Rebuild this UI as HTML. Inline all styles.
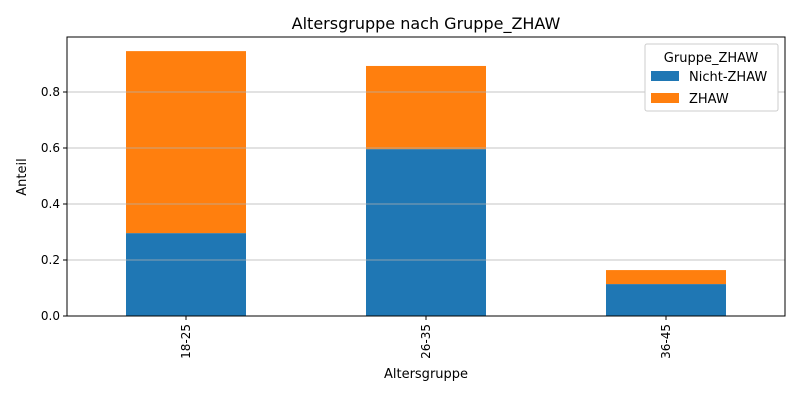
<!DOCTYPE html>
<html><head><meta charset="utf-8"><style>
body{margin:0;background:#fff;}
svg text{font-family:"DejaVu Sans","Liberation Sans",sans-serif;fill:#000;}
</style></head><body>
<svg id="chart" width="800" height="400" xmlns="http://www.w3.org/2000/svg">
<rect width="800" height="400" fill="#fff"/>
<text x="426" y="29" font-size="16" text-anchor="middle">Altersgruppe nach Gruppe_ZHAW</text>
<g id="bars"></g>
<g id="grid"></g>
<rect x="67" y="37" width="718" height="279" fill="none" stroke="#000" stroke-width="1"/>
<g id="yaxis"></g>
<g id="xaxis"></g>
<text x="426" y="382" font-size="13" text-anchor="middle" transform="translate(0,-4)">Altersgruppe</text>
<text transform="translate(26,177) rotate(-90)" font-size="13" text-anchor="middle">Anteil</text>
<g>
<rect x="645" y="44" width="133" height="67" fill="#fff" stroke="#ccc" rx="2"/>
<text x="711" y="62" font-size="13" text-anchor="middle">Gruppe_ZHAW</text>
<rect x="651" y="71" width="28" height="10" fill="#1f77b4"/>
<text x="689" y="81" font-size="13">Nicht-ZHAW</text>
<rect x="651" y="93" width="28" height="10" fill="#ff7f0e"/>
<text x="689" y="103" font-size="13">ZHAW</text>
</g>
</svg>
<script>
const categories = ["18-25","26-35","36-45"];
const nichtZhaw = [0.296, 0.596, 0.114];
const zhaw = [0.650, 0.297, 0.050];
const yTicks = [0.0, 0.2, 0.4, 0.6, 0.8];
const yTickLabels = ["0.0","0.2","0.4","0.6","0.8"];

const NS="http://www.w3.org/2000/svg";
const x0=67, x1=785, yBase=316, pxPerUnit=280, band=240, barW=120;
const yScale=v=>yBase-v*pxPerUnit;
const xCenter=i=>x0+(x1-x0)/2+(i-(categories.length-1)/2)*band;
function mk(tag,attrs,parent){const e=document.createElementNS(NS,tag);for(const k in attrs)e.setAttribute(k,attrs[k]);parent.appendChild(e);return e;}
const grid=document.getElementById('grid'),bars=document.getElementById('bars'),ya=document.getElementById('yaxis'),xa=document.getElementById('xaxis');
yTicks.forEach((t,i)=>{
  const y=yScale(t);
  const g=mk('line',{x1:x0,x2:x1,y1:y,y2:y,stroke:'#b0b0b0','stroke-width':0.8},grid);
  
  
  const tk=mk('line',{x1:x0-4,x2:x0,y1:y,y2:y,stroke:'#000'},ya);
  
  
  const tx=mk('text',{x:x0-7,y:y+4,'font-size':12,'text-anchor':'end'},ya);
  tx.textContent=yTickLabels[i];
  
  
});
categories.forEach((c,i)=>{
  const cx=xCenter(i);
  const b1=mk('rect',{x:cx-barW/2,y:yScale(nichtZhaw[i]),width:barW,height:nichtZhaw[i]*pxPerUnit,fill:'#1f77b4'},bars);
  
  
  const top=nichtZhaw[i]+zhaw[i];
  const b2=mk('rect',{x:cx-barW/2,y:yScale(top),width:barW,height:zhaw[i]*pxPerUnit,fill:'#ff7f0e'},bars);
  
  
  const tk=mk('line',{x1:cx,x2:cx,y1:yBase,y2:yBase+4,stroke:'#000'},xa);
  
  
  const tx=mk('text',{transform:`translate(${cx+4},${yBase+8}) rotate(-90)`,'font-size':12,'text-anchor':'end'},xa);
  tx.textContent=c;
  
  
});
</script>
</body></html>
